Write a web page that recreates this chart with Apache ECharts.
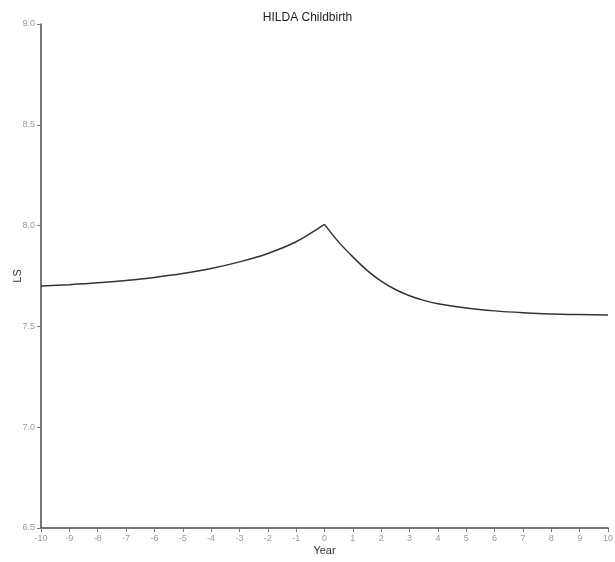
<!DOCTYPE html>
<html>
<head>
<meta charset="utf-8">
<script src="https://cdn.jsdelivr.net/npm/echarts@6/dist/echarts.min.js"></script>
<style>
  html, body { margin: 0; padding: 0; background: #fff; }
  #chart { width: 615px; height: 562px; }
</style>
</head>
<body>
<div id="chart"></div>
<script>
// Life satisfaction (LS) around the year of childbirth
const preYears = [-10, -9, -8, -7, -6, -5, -4, -3, -2, -1, 0];
const preLS = [7.700, 7.707, 7.716, 7.728, 7.743, 7.762, 7.787, 7.820, 7.862, 7.920, 8.006];

const postYears = [0, 0.5, 1, 1.5, 2, 2.5, 3, 3.5, 4, 5, 6, 7, 8, 9, 10];
const postLS = [8.006, 7.918, 7.845, 7.778, 7.724, 7.683, 7.652, 7.629, 7.612, 7.591, 7.577, 7.568, 7.562, 7.559, 7.557];

const xTicks = { min: -10, max: 10, step: 1 };
const yTicks = { min: 6.5, max: 9.0, step: 0.5 };

const pairs = (xs, ys) => xs.map((x, i) => [x, ys[i]]);

const FONT = '"Liberation Sans", Arial, sans-serif';
const AXIS_COLOR = '#4a4a4a';
const LABEL_COLOR = '#9a9a9a';
const LINE_COLOR = '#333333';

const chart = echarts.init(document.getElementById('chart'), null, { renderer: 'canvas' });

chart.setOption({
  animation: false,
  backgroundColor: '#ffffff',
  title: {
    text: 'HILDA Childbirth',
    left: 'center',
    top: 7,
    textStyle: { fontFamily: FONT, fontSize: 12, fontWeight: 'normal', color: '#222' }
  },
  grid: { left: 41, right: 7, top: 24, bottom: 34, containLabel: false, outerBoundsMode: 'none' },
  xAxis: {
    type: 'value',
    min: xTicks.min,
    max: xTicks.max,
    interval: xTicks.step,
    name: 'Year',
    nameLocation: 'middle',
    nameGap: 17,
    nameMoveOverlap: false,
    nameTextStyle: { fontFamily: FONT, fontSize: 11, color: '#333' },
    axisLine: { onZero: false, lineStyle: { color: AXIS_COLOR, width: 1.5 } },
    axisTick: { show: true, length: 4, lineStyle: { color: '#777', width: 1 } },
    axisLabel: { margin: 6, fontFamily: FONT, fontSize: 9, color: LABEL_COLOR },
    splitLine: { show: false }
  },
  yAxis: {
    type: 'value',
    min: yTicks.min,
    max: yTicks.max,
    interval: yTicks.step,
    name: 'LS',
    nameLocation: 'middle',
    nameGap: 18,
    nameRotate: 90,
    nameMoveOverlap: false,
    nameTextStyle: { fontFamily: FONT, fontSize: 11, color: '#333' },
    axisLine: { show: true, onZero: false, lineStyle: { color: AXIS_COLOR, width: 1.5 } },
    axisTick: { show: true, length: 4, lineStyle: { color: '#777', width: 1 } },
    axisLabel: {
      margin: 6,
      fontFamily: FONT,
      fontSize: 9,
      color: LABEL_COLOR,
      formatter: v => v.toFixed(1)
    },
    splitLine: { show: false }
  },
  series: [
    {
      name: 'Before birth',
      type: 'line',
      data: pairs(preYears, preLS),
      smooth: 0.3,
      showSymbol: false,
      lineStyle: { color: LINE_COLOR, width: 1.5 },
      itemStyle: { color: LINE_COLOR }
    },
    {
      name: 'After birth',
      type: 'line',
      data: pairs(postYears, postLS),
      smooth: 0.3,
      showSymbol: false,
      lineStyle: { color: LINE_COLOR, width: 1.5 },
      itemStyle: { color: LINE_COLOR }
    }
  ]
});
</script>
</body>
</html>
